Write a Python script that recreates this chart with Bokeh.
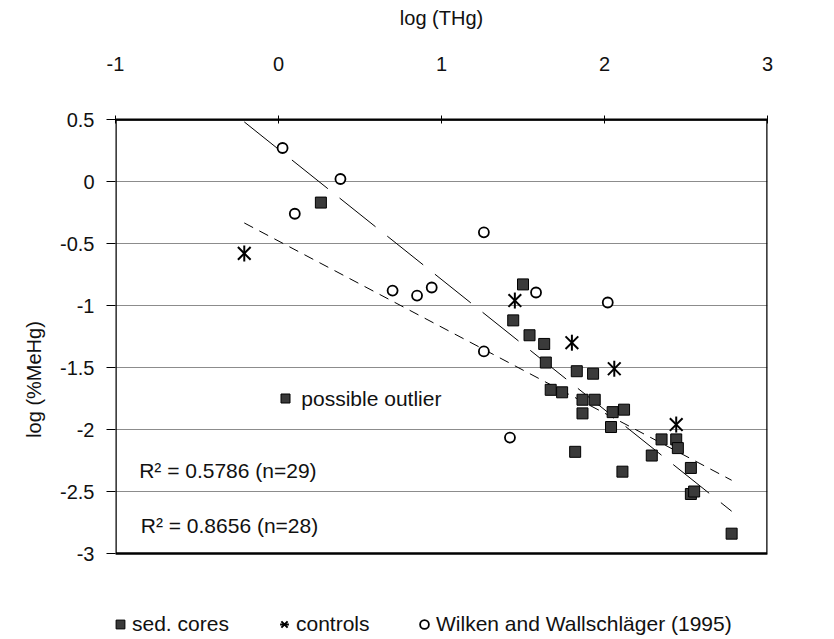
from bokeh.plotting import figure
from bokeh.models import Range1d, FixedTicker, Label, Legend, LegendItem
from bokeh.embed import file_html
from bokeh.resources import INLINE

# ---------------- data ----------------
sed_x = [0.26, 1.50, 1.44, 1.54, 1.63, 1.64, 1.83, 1.93, 1.67, 1.74, 1.865, 1.94,
         1.865, 2.05, 2.12, 2.04, 1.82, 2.35, 2.44, 2.45, 2.29, 2.53, 2.11, 2.53,
         2.55, 2.78]
sed_y = [-0.17, -0.83, -1.12, -1.24, -1.31, -1.46, -1.53, -1.55, -1.68, -1.70, -1.76, -1.76,
         -1.87, -1.86, -1.84, -1.98, -2.18, -2.08, -2.08, -2.15, -2.21, -2.31, -2.34, -2.52,
         -2.50, -2.84]

ctrl_x = [-0.21, 1.45, 1.80, 2.06, 2.44]
ctrl_y = [-0.58, -0.96, -1.30, -1.51, -1.96]

wilken_x = [0.025, 0.38, 0.10, 1.26, 0.70, 0.85, 0.94, 1.58, 2.02, 1.26, 1.42]
wilken_y = [0.27, 0.02, -0.26, -0.41, -0.88, -0.92, -0.855, -0.895, -0.976, -1.37, -2.065]

x_ticks = [-1, 0, 1, 2, 3]
x_tick_labels = ["-1", "0", "1", "2", "3"]
y_ticks = [-3, -2.5, -2, -1.5, -1, -0.5, 0, 0.5]
y_tick_labels = ["-3", "-2.5", "-2", "-1.5", "-1", "-0.5", "0", "0.5"]

# trend lines: (slope, intercept)
fit_steep = (-1.05, 0.26)
fit_flat = (-0.694, -0.48)

r2_texts = ["R\u00b2 = 0.5786 (n=29)", "R\u00b2 = 0.8656 (n=28)"]
outlier_text = "possible outlier"
legend_labels = ["sed. cores", "controls", "Wilken and Wallschl\u00e4ger (1995)"]

FONT = "Liberation Sans"
FS = "20px"
FS_ANN = "21px"

# The frame extends below the axes box so the legend can live inside it.
y_low = y_ticks[0] - 86 / 124.0

p = figure(width=834, height=639, x_range=Range1d(x_ticks[0], x_ticks[-1]),
           y_range=Range1d(y_low, y_ticks[-1]),
           output_backend="svg", toolbar_location=None, x_axis_location="above",
           min_border_left=115, min_border_right=67, min_border_top=119,
           min_border_bottom=0)
p.background_fill_color = "white"
p.border_fill_color = "white"
p.outline_line_color = None

p.xgrid.visible = False
p.ygrid.ticker = FixedTicker(ticks=y_ticks)
p.ygrid.grid_line_color = "#8c8c8c"
p.ygrid.grid_line_width = 1

xa = p.xaxis[0]
xa.ticker = FixedTicker(ticks=x_ticks)
xa.major_label_overrides = {t: l for t, l in zip(x_ticks, x_tick_labels)}
xa.axis_label = "log (THg)"
xa.major_tick_in = 4
xa.major_tick_out = 4
xa.minor_tick_line_color = None
xa.major_label_standoff = 45
xa.axis_label_standoff = 25
xa.axis_line_color = "black"
xa.axis_line_width = 2

ya = p.yaxis[0]
ya.ticker = FixedTicker(ticks=y_ticks)
ya.major_label_overrides = {t: l for t, l in zip(y_ticks, y_tick_labels)}
ya.axis_label = "log (%MeHg)"
ya.major_tick_in = 0
ya.major_tick_out = 9
ya.minor_tick_line_color = None
ya.major_label_standoff = 12
ya.axis_label_standoff = 12
ya.axis_line_color = None

for ax in (xa, ya):
    ax.major_tick_line_color = "black"
    ax.major_label_text_font = FONT
    ax.major_label_text_font_size = FS
    ax.major_label_text_color = "#111111"
    ax.axis_label_text_font = FONT
    ax.axis_label_text_font_size = FS
    ax.axis_label_text_font_style = "normal"
    ax.axis_label_text_color = "#111111"

# axes box
p.quad(left=[x_ticks[0]], right=[x_ticks[-1]], bottom=[y_ticks[0]], top=[y_ticks[-1]],
       fill_alpha=0, line_color="black", line_width=2.5)

# ---------------- trend lines ----------------
all_x = sed_x + ctrl_x + wilken_x
x0, x1 = min(all_x), max(all_x)
p.line([x0, x1], [fit_steep[1] + fit_steep[0] * x0, fit_steep[1] + fit_steep[0] * x1],
       line_color="black", line_width=1, line_dash="46 15")
p.line([x0, x1], [fit_flat[1] + fit_flat[0] * x0, fit_flat[1] + fit_flat[0] * x1],
       line_color="black", line_width=1, line_dash="10 7")

# ---------------- markers ----------------
r_sed = p.scatter(sed_x, sed_y, marker="square", size=11, fill_color="#3a3a3a",
                  line_color="black", line_width=1)
r_cx = p.scatter(ctrl_x, ctrl_y, marker="x", size=18, line_color="black", line_width=2)
r_cd = p.scatter(ctrl_x, ctrl_y, marker="dash", angle=1.5708, size=16,
                 line_color="black", line_width=2)
r_w = p.scatter(wilken_x, wilken_y, marker="circle", size=10, fill_color="white",
                line_color="black", line_width=1.8)

# ---------------- annotations ----------------
p.scatter([0.043], [-1.75], marker="square", size=9, fill_color="#3a3a3a",
          line_color="black", line_width=1)
p.add_layout(Label(x=0.14, y=-1.75, text=outlier_text, text_font=FONT,
                   text_font_size=FS_ANN, text_baseline="middle", text_color="#111111"))
p.add_layout(Label(x=-0.855, y=-2.33, text=r2_texts[0], text_font=FONT,
                   text_font_size=FS_ANN, text_baseline="middle", text_color="#111111"))
p.add_layout(Label(x=-0.845, y=-2.775, text=r2_texts[1], text_font=FONT,
                   text_font_size=FS_ANN, text_baseline="middle", text_color="#111111"))

# ---------------- legend (below the axes box) ----------------
leg_items = [
    (LegendItem(label=legend_labels[0], renderers=[r_sed]), -6),
    (LegendItem(label=legend_labels[1], renderers=[r_cx, r_cd]), 158),
    (LegendItem(label=legend_labels[2], renderers=[r_w]), 298),
]
for item, lx in leg_items:
    lg = Legend(items=[item], location=(lx, 3), orientation="horizontal",
                glyph_width=22, glyph_height=24, label_standoff=1, padding=0,
                margin=0, spacing=0, border_line_alpha=0, background_fill_alpha=0,
                label_text_font=FONT, label_text_font_size=FS_ANN,
                label_text_color="#111111", label_height=24)
    p.add_layout(lg, "center")

open("out.html", "w").write(file_html(p, INLINE))
